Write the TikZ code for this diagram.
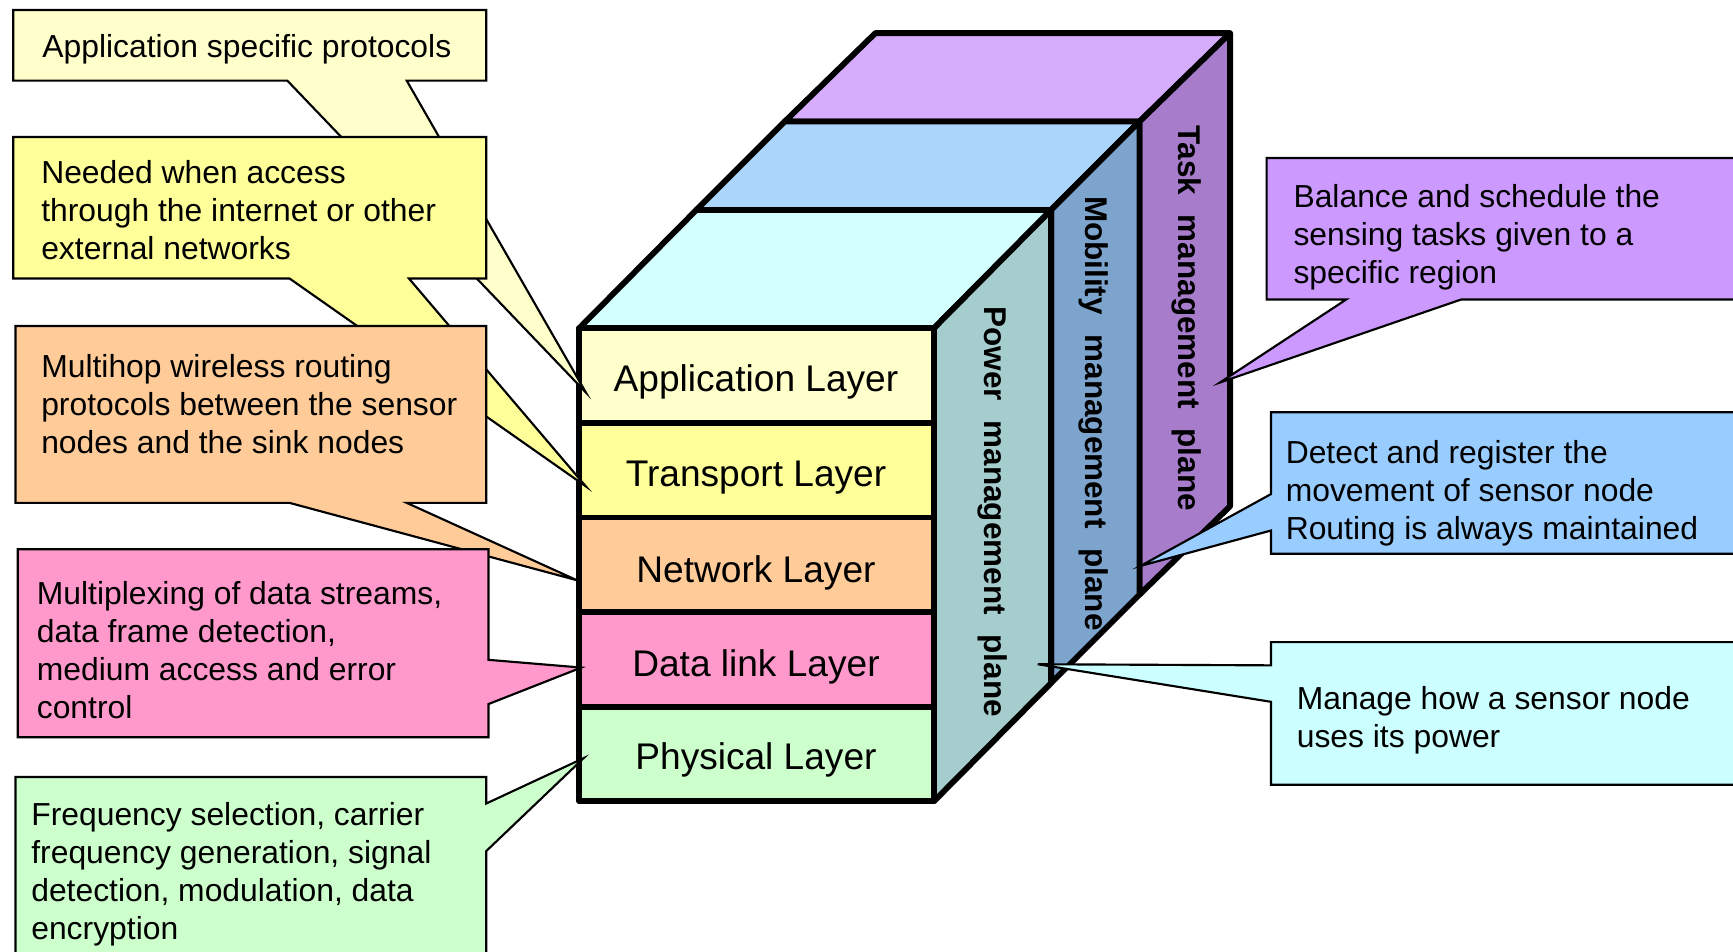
\documentclass[tikz,border=0pt]{standalone}
\usepackage{fontspec}
\setmainfont{Liberation Sans}
\definecolor{appC}{HTML}{FFFFCC}
\definecolor{trC}{HTML}{FFFF99}
\definecolor{netC}{HTML}{FFCC99}
\definecolor{dlC}{HTML}{FF99CC}
\definecolor{phC}{HTML}{CCFFCC}
\definecolor{powTop}{HTML}{D4FFFF}
\definecolor{powSide}{HTML}{A6CDCD}
\definecolor{mobTop}{HTML}{ABD5FB}
\definecolor{mobSide}{HTML}{7CA4CD}
\definecolor{taskTop}{HTML}{D6ADFD}
\definecolor{taskSide}{HTML}{A67CCB}
\definecolor{noteTask}{HTML}{CC99FF}
\definecolor{noteMob}{HTML}{99CCFF}
\definecolor{notePow}{HTML}{CCFFFF}
\begin{document}
\begin{tikzpicture}[x=0.02cm,y=-0.02cm]
\tikzset{
  face/.style={draw=black, line width=3pt, line join=round},
  callout/.style={draw=black, line width=1.1pt, line join=miter},
  note/.style={anchor=west, inner sep=0pt, align=left,
               font=\fontsize{16.4}{19.6}\selectfont},
  layer/.style={inner sep=0pt, font=\fontsize{19.1}{22}\selectfont},
  plane/.style={inner sep=0pt, rotate=-90,
                font=\fontsize{16.2}{19}\selectfont\bfseries},
}
\newcommand{\gap}{\hspace{0.35em} }
\useasboundingbox (0,0) rectangle (1568,861);
\begin{scope}
\clip (0,0) rectangle (1568,861);

% corner points of the protocol stack
\coordinate (P0) at (524,297);  \coordinate (P1) at (845,297);  \coordinate (P2) at (845,725);
\coordinate (Q0) at (630,190);  \coordinate (Q1) at (951,190);  \coordinate (Q2) at (951,618);
\coordinate (R0) at (710,110);  \coordinate (R1) at (1031,110); \coordinate (R2) at (1031,538);
\coordinate (S0) at (792,30);   \coordinate (S1) at (1113,30);  \coordinate (S2) at (1113,458);

% task management plane
\draw[face, fill=taskTop]  (R0) -- (R1) -- (S1) -- (S0) -- cycle;
\draw[face, fill=taskSide] (R1) -- (R2) -- (S2) -- (S1) -- cycle;
% mobility management plane
\draw[face, fill=mobTop]  (Q0) -- (Q1) -- (R1) -- (R0) -- cycle;
\draw[face, fill=mobSide] (Q1) -- (Q2) -- (R2) -- (R1) -- cycle;
% power management plane
\draw[face, fill=powTop]  (P0) -- (P1) -- (Q1) -- (Q0) -- cycle;
\draw[face, fill=powSide] (P1) -- (P2) -- (Q2) -- (Q1) -- cycle;

% the five protocol layers on the front face
\draw[face, fill=appC] (524,297)   rectangle (845,382.6);
\draw[face, fill=trC]  (524,382.6) rectangle (845,468.2);
\draw[face, fill=netC] (524,468.2) rectangle (845,553.8);
\draw[face, fill=dlC]  (524,553.8) rectangle (845,639.4);
\draw[face, fill=phC]  (524,639.4) rectangle (845,725);

\node[layer] (app) at (684,346) {Application Layer};
\node[layer] (tra) at (684,432) {Transport Layer};
\node[layer] (net) at (684,518) {Network Layer};
\node[layer] (dl)  at (684,603) {Data link Layer};
\node[layer] (phy) at (684,688) {Physical Layer};

\node[plane] (pow)  at (898,463)  {Power\gap management\gap plane};
\node[plane] (mob)  at (989,374)  {Mobility\gap management\gap plane};
\node[plane] (task) at (1074,288) {Task\gap management\gap plane};

% callouts on the left
\draw[callout, fill=appC] (12,9) -- (440,9) -- (440,73) -- (368,73) -- (530,355)
  -- (260,73) -- (12,73) -- cycle;
\node[note] (t1) at (38,45) {Application specific protocols};

\draw[callout, fill=trC] (12,124) -- (440,124) -- (440,252) -- (370,252) -- (530,440)
  -- (262,252) -- (12,252) -- cycle;
\node[note] (t2) at (37,190) {Needed when access\\through the internet or other\\external networks};

\draw[callout, fill=netC] (14,295) -- (440,295) -- (440,455) -- (368,455) -- (522,525)
  -- (262,455) -- (14,455) -- cycle;
\node[note] (t3) at (37,365.5) {Multihop wireless routing\\protocols between the sensor\\nodes and the sink nodes};

\draw[callout, fill=dlC] (16,497) -- (442,497) -- (442,597) -- (526,604) -- (442,637)
  -- (442,667) -- (16,667) -- cycle;
\node[note] (t4) at (33,588.5) {Multiplexing of data streams,\\data frame detection,\\medium access and error\\control};

\draw[callout, fill=phC] (14,703) -- (440,703) -- (440,727) -- (528,686) -- (440,770)
  -- (440,880) -- (14,880) -- cycle;
\node[note] (t5) at (28,791) {Frequency selection, carrier\\frequency generation, signal\\detection, modulation, data\\encryption};

% callouts on the right
\draw[callout, fill=noteTask] (1146,143) -- (1590,143) -- (1590,271) -- (1322,271)
  -- (1104,346) -- (1218,271) -- (1146,271) -- cycle;
\node[note] (t6) at (1170,214.5) {Balance and schedule the\\sensing tasks given to a\\specific region};

\draw[callout, fill=noteMob] (1150,373) -- (1590,373) -- (1590,501) -- (1150,501)
  -- (1150,480) -- (1032,512) -- (1150,447) -- cycle;
\node[note] (t7) at (1163,446.5) {Detect and register the\\movement of sensor node\\Routing is always maintained};

\draw[callout, fill=notePow] (1150,581) -- (1590,581) -- (1590,710) -- (1150,710)
  -- (1150,635) -- (939,601) -- (1150,602) -- cycle;
\node[note] (t8) at (1173,651.5) {Manage how a sensor node\\uses its power};
\end{scope}
\end{tikzpicture}
\end{document}
